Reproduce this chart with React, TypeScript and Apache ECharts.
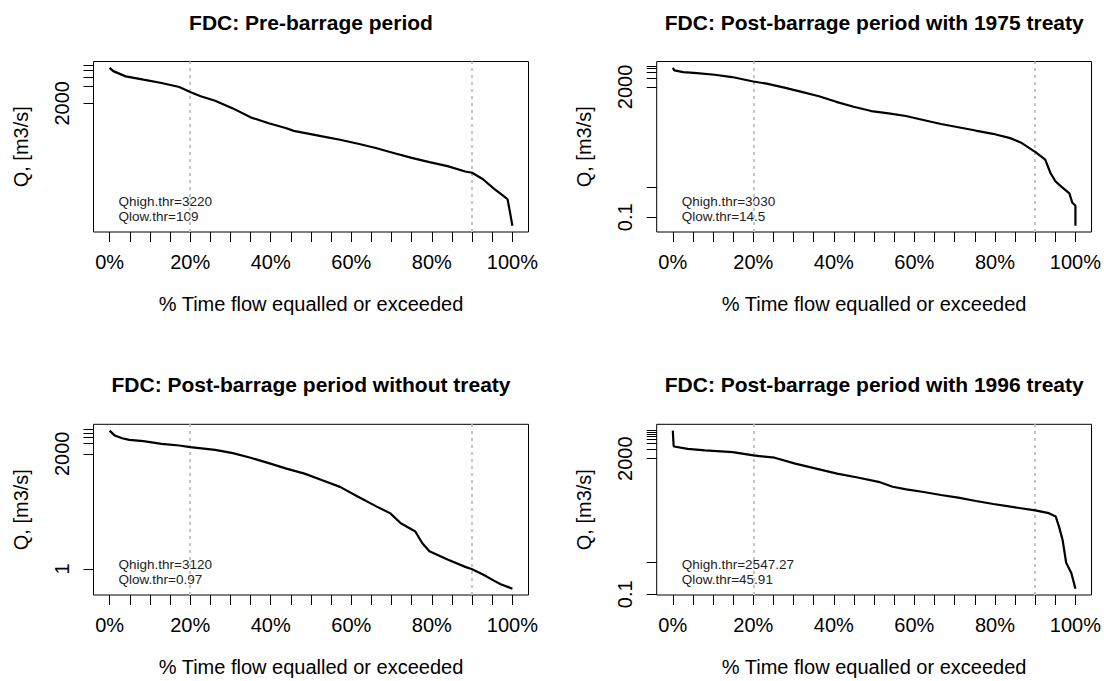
import React, { useEffect, useRef } from "react";
import * as echarts from "echarts";

// ---------- DATA ----------
const panelTitles = [
  "FDC: Pre-barrage period",
  "FDC: Post-barrage period with 1975 treaty",
  "FDC: Post-barrage period without treaty",
  "FDC: Post-barrage period with 1996 treaty",
];

// % time flow equalled or exceeded
const pct1 = [0, 0.9, 4.0, 8.4, 12.9, 17.3, 20.0, 22.6, 26.2, 30.6, 35.0, 39.5, 43.9, 45.7, 52.8, 57.2, 61.7, 66.1, 70.5, 75.0, 79.4, 83.9, 88.3, 90.0, 92.7, 95.4, 98.0, 98.8, 99.4, 100];
const q1 = [8830, 7690, 6170, 5370, 4680, 3960, 3220, 2690, 2220, 1615, 1110, 867, 705, 630, 499, 434, 368, 307, 250, 203, 170, 144, 115, 109, 83, 56, 40, 36, 21, 11.9];

const pct2 = [0, 0.4, 2.6, 6.0, 10.4, 14.7, 20.0, 23.3, 27.7, 32.0, 36.3, 40.6, 44.9, 49.3, 53.6, 57.9, 62.2, 66.6, 70.9, 75.2, 79.5, 83.8, 86.4, 90.0, 92.5, 93.8, 95.0, 96.8, 98.5, 99.2, 100, 100];
const q2 = [8570, 7015, 6180, 5730, 5060, 4250, 3030, 2570, 1900, 1375, 991, 647, 444, 321, 269, 220, 163, 120, 94, 73, 57, 41, 29.6, 14.5, 8.0, 2.9, 1.57, 0.95, 0.62, 0.31, 0.24, 0.053];

const pct3 = [0, 1.3, 3.1, 4.9, 8.4, 12.9, 17.3, 20.0, 26.2, 30.6, 35.0, 39.5, 43.9, 48.4, 52.8, 57.2, 61.7, 66.1, 69.7, 72.3, 75.9, 77.6, 79.4, 83.9, 88.3, 90.0, 92.7, 95.4, 97.1, 100];
const q3 = [9230, 6650, 5580, 5000, 4590, 3850, 3450, 3120, 2600, 2090, 1540, 1080, 748, 540, 348, 225, 117, 63, 39, 20.4, 11.8, 5.5, 3.2, 1.85, 1.14, 0.97, 0.69, 0.46, 0.36, 0.27];

const pct4 = [0, 0.2, 0.3, 3.7, 8.0, 14.9, 20.0, 25.3, 30.4, 35.6, 40.8, 45.9, 51.1, 54.6, 58.0, 62.3, 66.6, 70.9, 75.3, 79.6, 83.9, 90.0, 93.4, 95.1, 95.9, 96.8, 97.7, 99.0, 100];
const q4 = [15560, 5250, 4890, 4120, 3660, 3240, 2547, 2150, 1390, 970, 675, 506, 369, 257, 212, 175, 141, 116, 91, 73, 60, 45.91, 37.3, 29.3, 14.2, 5.4, 1.0, 0.46, 0.15];

const qHighThr = ["3220", "3030", "3120", "2547.27"];
const qLowThr = ["109", "14.5", "0.97", "45.91"];

const thresholdPct = [20, 90];

const xTickValues = [0, 5, 10, 15, 20, 25, 30, 35, 40, 45, 50, 55, 60, 65, 70, 75, 80, 85, 90, 95, 100];
const xLabelValues = [0, 20, 40, 60, 80, 100];

const yTicks1 = [2000, 4000, 6000, 8000, 10000];
const yTicks2 = [0.1, 1, 2000, 4000, 6000, 8000, 10000];
const yTicks3 = [1, 2000, 4000, 6000, 8000, 10000];
const yTicks4 = [0.1, 1, 2000, 4000, 6000, 8000, 10000, 12000, 14000, 16000];

const yLabels1 = [2000];
const yLabels2 = [0.1, 2000];
const yLabels3 = [1, 2000];
const yLabels4 = [0.1, 2000];

const xAxisTitle = "% Time flow equalled or exceeded";
const yAxisTitle = "Q, [m3/s]";

// ---------- LAYOUT ----------
const FONT = "'Liberation Sans', Arial, sans-serif";
const grids = [
  { left: 93.5, top: 61.5, width: 435, height: 170.5 },
  { left: 656.7, top: 61.5, width: 435, height: 170.5 },
  { left: 93.5, top: 424.3, width: 435, height: 170.7 },
  { left: 656.7, top: 424.3, width: 435, height: 170.7 },
];

const panels = [
  { pct: pct1, q: q1, ticks: yTicks1, labels: yLabels1 },
  { pct: pct2, q: q2, ticks: yTicks2, labels: yLabels2 },
  { pct: pct3, q: q3, ticks: yTicks3, labels: yLabels3 },
  { pct: pct4, q: q4, ticks: yTicks4, labels: yLabels4 },
];

function fmtQ(v: number): string {
  const p = Math.pow(10, v);
  return String(Number(p.toPrecision(6)));
}

function buildOption() {
  const grid: any[] = [];
  const xAxis: any[] = [];
  const yAxis: any[] = [];
  const series: any[] = [];
  const title: any[] = [];
  const graphic: any[] = [];

  panels.forEach((pn, i) => {
    const g = grids[i];
    grid.push({
      left: g.left,
      top: g.top,
      width: g.width,
      height: g.height,
      show: true,
      borderColor: "#000",
      borderWidth: 1,
      backgroundColor: "transparent",
      containLabel: false,
    });

    const logs = pn.q.map((v) => Math.log10(v));
    const lmin = Math.min(...logs);
    const lmax = Math.max(...logs);
    const pad = 0.04 * (lmax - lmin);

    xAxis.push({
      type: "value",
      gridIndex: i,
      position: "bottom",
      min: -4,
      max: 104,
      name: xAxisTitle,
      nameLocation: "middle",
      nameGap: 62,
      nameTextStyle: { fontSize: 20, fontFamily: FONT, color: "#000" },
      axisLine: { show: false, onZero: false },
      splitLine: { show: false },
      axisTick: {
        show: true,
        length: 10,
        inside: false,
        customValues: xTickValues,
        lineStyle: { color: "#000", width: 1 },
      },
      axisLabel: {
        show: true,
        customValues: xLabelValues,
        margin: 20,
        fontSize: 20,
        fontFamily: FONT,
        color: "#000",
        formatter: (v: number) => `${Math.round(v)}%`,
      },
    });

    yAxis.push({
      type: "value",
      gridIndex: i,
      position: "left",
      min: lmin - pad,
      max: lmax + pad,
      name: yAxisTitle,
      nameLocation: "middle",
      nameGap: 63,
      nameRotate: 90,
      nameTextStyle: { fontSize: 20, fontFamily: FONT, color: "#000" },
      axisLine: { show: false, onZero: false },
      splitLine: { show: false },
      axisTick: {
        show: true,
        length: 10,
        inside: false,
        customValues: pn.ticks.map((v) => Math.log10(v)),
        lineStyle: { color: "#000", width: 1 },
      },
      axisLabel: {
        show: true,
        rotate: 90,
        customValues: pn.labels.map((v) => Math.log10(v)),
        margin: 22,
        fontSize: 20,
        fontFamily: FONT,
        color: "#000",
        formatter: (v: number) => fmtQ(v),
      },
    });

    series.push({
      type: "line",
      xAxisIndex: i,
      yAxisIndex: i,
      data: pn.pct.map((p, k) => [p, logs[k]]),
      showSymbol: false,
      symbol: "none",
      lineStyle: { color: "#000", width: 2.2 },
      z: 3,
      markLine: {
        silent: true,
        symbol: ["none", "none"],
        label: { show: false },
        lineStyle: { color: "#c4c4c4", type: [3, 4], width: 2 },
        data: thresholdPct.map((t) => ({ xAxis: t })),
        z: 2,
      },
    });

    title.push({
      text: panelTitles[i],
      left: g.left + g.width / 2,
      top: g.top - 50,
      textAlign: "center",
      padding: 0,
      textStyle: { fontSize: 21, fontWeight: "bold", fontFamily: FONT, color: "#000" },
    });

    graphic.push({
      type: "text",
      x: g.left + 25,
      y: g.top + g.height - 30.5,
      style: {
        text: `Qhigh.thr=${qHighThr[i]}`,
        fontSize: 13.5,
        fontFamily: FONT,
        fill: "#222",
        verticalAlign: "middle",
      },
    });
    graphic.push({
      type: "text",
      x: g.left + 25,
      y: g.top + g.height - 15.5,
      style: {
        text: `Qlow.thr=${qLowThr[i]}`,
        fontSize: 13.5,
        fontFamily: FONT,
        fill: "#222",
        verticalAlign: "middle",
      },
    });
  });

  return {
    animation: false,
    backgroundColor: "#fff",
    title,
    grid,
    xAxis,
    yAxis,
    series,
    graphic,
  };
}

export default function App() {
  const ref = useRef<HTMLDivElement>(null);
  useEffect(() => {
    if (!ref.current) return;
    const chart = echarts.init(ref.current, undefined, { renderer: "svg" });
    chart.setOption(buildOption());
    return () => chart.dispose();
  }, []);
  return (
    <div
      ref={ref}
      style={{ position: "fixed", left: 0, top: 0, width: 1104, height: 681, background: "#fff" }}
    />
  );
}
